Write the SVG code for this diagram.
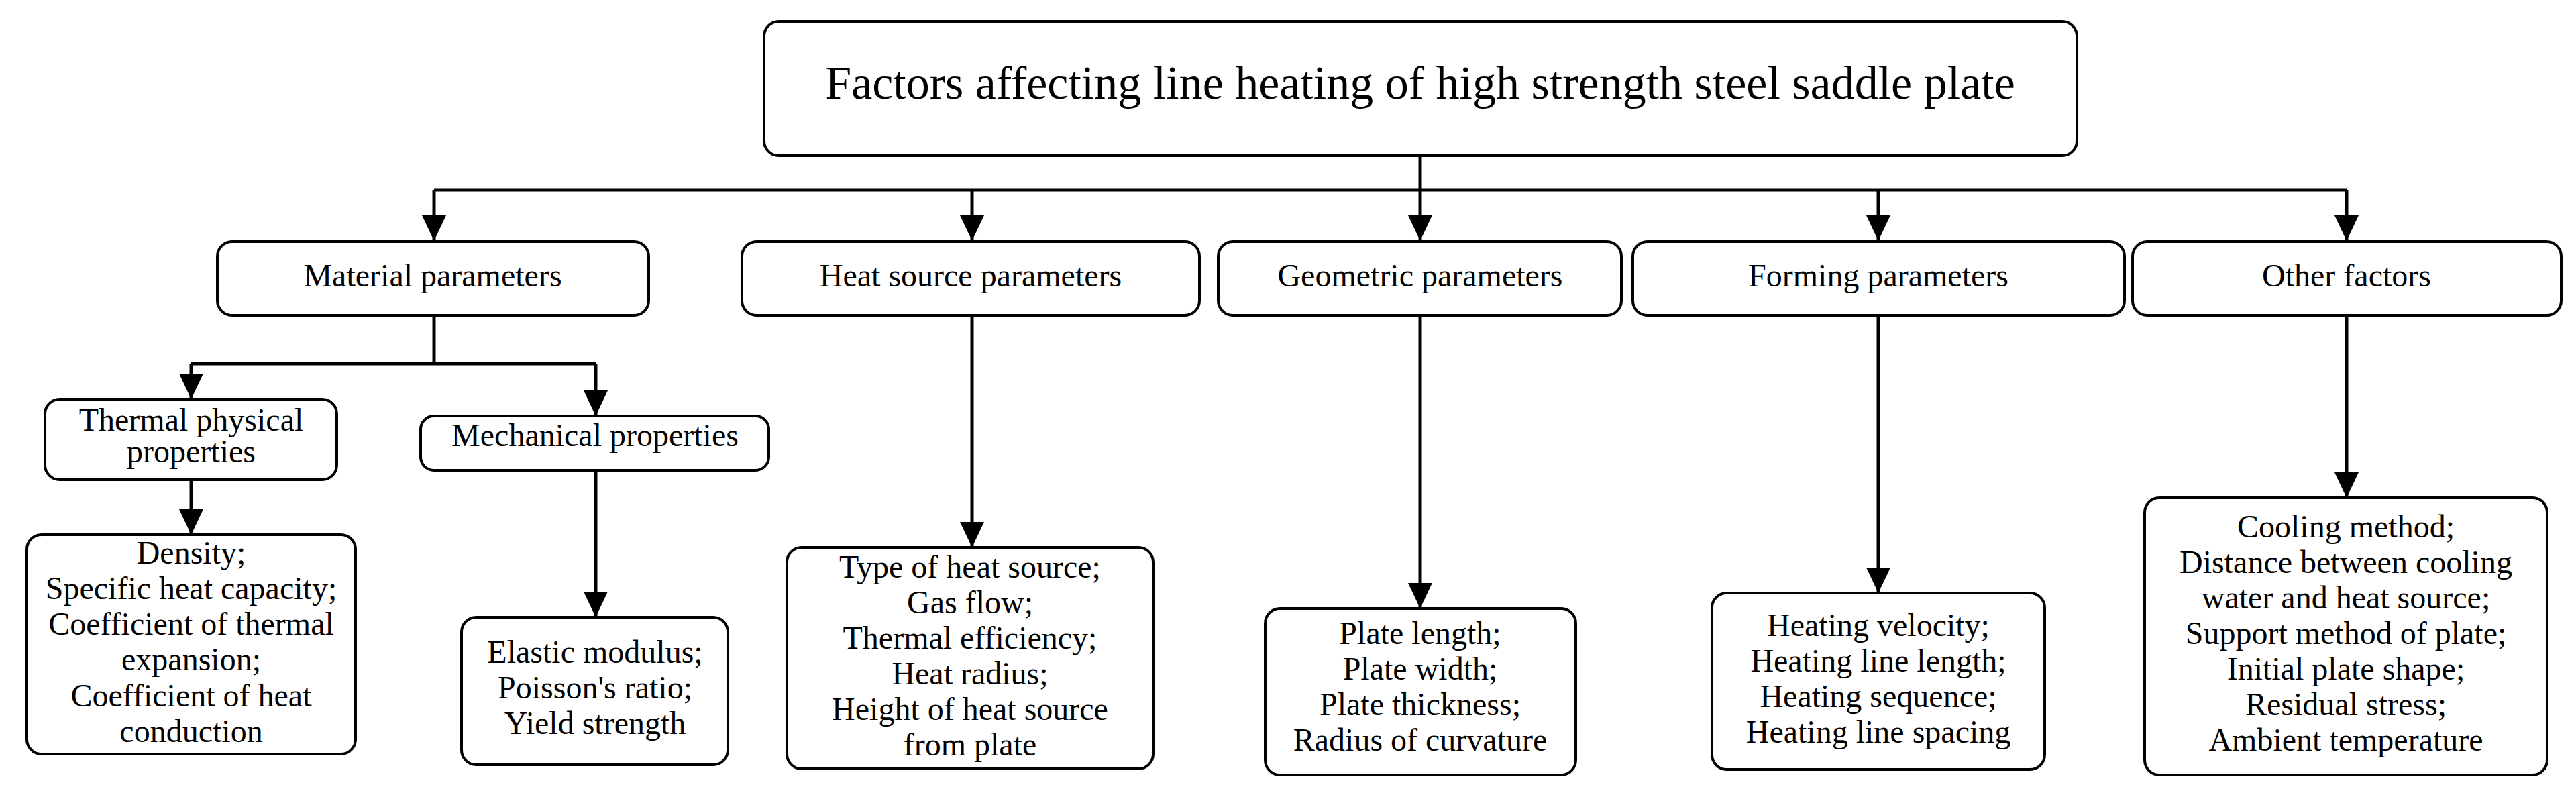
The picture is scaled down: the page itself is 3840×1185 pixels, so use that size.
<svg xmlns="http://www.w3.org/2000/svg" width="3840" height="1185" viewBox="0 0 3840 1185">
<style>
.b{fill:#fff;stroke:#000;stroke-width:4}
.t{font-family:"Liberation Serif",serif;font-size:48px;text-anchor:middle;fill:#000}
.c{fill:none;stroke:#000;stroke-width:5}
</style>
<defs><marker id="a" markerUnits="userSpaceOnUse" markerWidth="38" markerHeight="36" refX="38" refY="18" orient="auto"><path d="M0,0L38,18L0,36Z" fill="#000"/></marker></defs>
<rect width="3840" height="1185" fill="#fff"/>
<g id="connectors">
<path class="c" d="M2117,232V283"/>
<path class="c" d="M647,283H3498"/>
<path class="c" d="M647,283V359" marker-end="url(#a)"/>
<path class="c" d="M1449,283V359" marker-end="url(#a)"/>
<path class="c" d="M2117,283V359" marker-end="url(#a)"/>
<path class="c" d="M2800,283V359" marker-end="url(#a)"/>
<path class="c" d="M3498,283V359" marker-end="url(#a)"/>
<path class="c" d="M647,470V542"/>
<path class="c" d="M285,542H888"/>
<path class="c" d="M285,542V595" marker-end="url(#a)"/>
<path class="c" d="M888,542V620" marker-end="url(#a)"/>
<path class="c" d="M285,715V797" marker-end="url(#a)"/>
<path class="c" d="M888,701V920" marker-end="url(#a)"/>
<path class="c" d="M1449,470V816" marker-end="url(#a)"/>
<path class="c" d="M2117,470V907" marker-end="url(#a)"/>
<path class="c" d="M2800,470V884" marker-end="url(#a)"/>
<path class="c" d="M3498,470V742" marker-end="url(#a)"/>
</g>
<g id="root"><rect class="b" x="1139" y="32" width="1957" height="200" rx="22"/><text class="t" x="2117" y="147" style="font-size:70px">Factors affecting line heating of high strength steel saddle plate</text></g>
<g id="material"><rect class="b" x="324" y="360" width="643" height="110" rx="22"/><text class="t" x="645" y="427">Material parameters</text></g>
<g id="heatsource"><rect class="b" x="1106" y="360" width="682" height="110" rx="22"/><text class="t" x="1447" y="427">Heat source parameters</text></g>
<g id="geometric"><rect class="b" x="1816" y="360" width="601" height="110" rx="22"/><text class="t" x="2117" y="427">Geometric parameters</text></g>
<g id="forming"><rect class="b" x="2434" y="360" width="733" height="110" rx="22"/><text class="t" x="2800" y="427">Forming parameters</text></g>
<g id="other"><rect class="b" x="3179" y="360" width="639" height="110" rx="22"/><text class="t" x="3498" y="427">Other factors</text></g>
<g id="thermal"><rect class="b" x="67" y="595" width="435" height="120" rx="22"/><text class="t" x="285" y="642">Thermal physical</text><text class="t" x="285" y="689">properties</text></g>
<g id="mechanical"><rect class="b" x="627" y="620" width="519" height="81" rx="20"/><text class="t" x="887" y="665">Mechanical properties</text></g>
<g id="thermal-list"><rect class="b" x="40" y="797" width="490" height="327" rx="22"/><text class="t" x="285" y="840">Density;</text><text class="t" x="285" y="893">Specific heat capacity;</text><text class="t" x="285" y="946">Coefficient of thermal</text><text class="t" x="285" y="999">expansion;</text><text class="t" x="285" y="1053">Coefficient of heat</text><text class="t" x="285" y="1106">conduction</text></g>
<g id="mech-list"><rect class="b" x="688" y="920" width="397" height="220" rx="22"/><text class="t" x="887" y="988">Elastic modulus;</text><text class="t" x="887" y="1041">Poisson's ratio;</text><text class="t" x="887" y="1094">Yield strength</text></g>
<g id="heat-list"><rect class="b" x="1173" y="816" width="546" height="330" rx="22"/><text class="t" x="1446" y="861">Type of heat source;</text><text class="t" x="1446" y="914">Gas flow;</text><text class="t" x="1446" y="967">Thermal efficiency;</text><text class="t" x="1446" y="1020">Heat radius;</text><text class="t" x="1446" y="1073">Height of heat source</text><text class="t" x="1446" y="1126">from plate</text></g>
<g id="geo-list"><rect class="b" x="1886" y="907" width="463" height="248" rx="22"/><text class="t" x="2117" y="960">Plate length;</text><text class="t" x="2117" y="1013">Plate width;</text><text class="t" x="2117" y="1066">Plate thickness;</text><text class="t" x="2117" y="1119">Radius of curvature</text></g>
<g id="form-list"><rect class="b" x="2552" y="884" width="496" height="263" rx="22"/><text class="t" x="2800" y="948">Heating velocity;</text><text class="t" x="2800" y="1001">Heating line length;</text><text class="t" x="2800" y="1054">Heating sequence;</text><text class="t" x="2800" y="1107">Heating line spacing</text></g>
<g id="other-list"><rect class="b" x="3197" y="742" width="600" height="413" rx="22"/><text class="t" x="3497" y="801">Cooling method;</text><text class="t" x="3497" y="854">Distance between cooling</text><text class="t" x="3497" y="907">water and heat source;</text><text class="t" x="3497" y="960">Support method of plate;</text><text class="t" x="3497" y="1013">Initial plate shape;</text><text class="t" x="3497" y="1066">Residual stress;</text><text class="t" x="3497" y="1119">Ambient temperature</text></g>
</svg>
